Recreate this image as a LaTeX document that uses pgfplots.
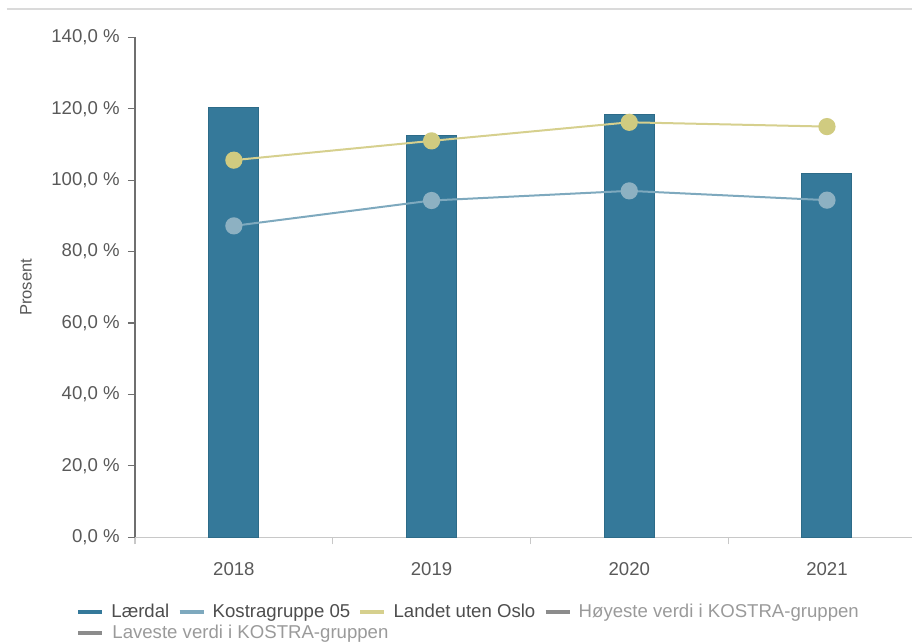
\documentclass[border=0pt]{standalone}
\usepackage{fontspec}
\setmainfont{Liberation Sans}
\usepackage{pgfplots}
\pgfplotsset{compat=1.18}
\definecolor{lerdal}{HTML}{35799A}
\definecolor{lerdaledge}{HTML}{2D6B88}
\definecolor{kostra}{HTML}{7EA9BE}
\definecolor{kostramark}{HTML}{8DB1C2}
\definecolor{landet}{HTML}{D6D08E}
\definecolor{landetmark}{HTML}{D0CB80}
\definecolor{minmax}{HTML}{8C8C8C}
\definecolor{labeltext}{HTML}{595959}
\definecolor{legtext}{HTML}{4D4D4D}
\definecolor{legdim}{HTML}{9A9A9A}
\definecolor{yaxis}{HTML}{6F6F6F}
\definecolor{xaxis}{HTML}{C8C8C8}
\definecolor{topline}{HTML}{DADADA}

\begin{document}
\fontsize{9.3}{11}\selectfont
\begin{tikzpicture}
\useasboundingbox (-67.5pt,-52.85pt) rectangle (388.5pt,268.65pt);
\draw[topline, line width=0.8pt] (-64pt,264pt) -- (388.5pt,264pt);
\begin{axis}[
    at={(0pt,0pt)}, anchor=south west,
    scale only axis,
    width=388.5pt, height=250pt,
    xmin=-0.5, xmax=3.43,
    ymin=0, ymax=140,
    axis x line*=bottom,
    axis y line*=left,
    x axis line style={draw=xaxis, line width=0.6pt},
    y axis line style={draw=yaxis, line width=0.6pt},
    tick align=outside,
    ytick={0,20,40,60,80,100,120,140},
    yticklabels={{0,0 \%},{20,0 \%},{40,0 \%},{60,0 \%},{80,0 \%},{100,0 \%},{120,0 \%},{140,0 \%}},
    ytick style={draw=yaxis, line width=0.6pt},
    major tick length=3.5pt,
    yticklabel style={text=labeltext, inner sep=0pt, anchor=east, font=\fontsize{9.3}{11}\selectfont},
    yticklabel shift=4pt,
    xtick={-0.5,0.5,1.5,2.5},
    xticklabels={},
    xtick style={draw=xaxis, line width=0.6pt},
    extra x ticks={0,1,2,3},
    extra x tick labels={2018,2019,2020,2021},
    extra x tick style={major tick length=0pt,
        xticklabel style={text=labeltext, inner sep=0pt, anchor=north, yshift=-12.5pt, font=\fontsize{9.3}{11}\selectfont}},
    ylabel={Prosent},
    every axis y label/.style={at={(-54.5pt,125pt)}, rotate=90, anchor=center,
        text=labeltext, font=\fontsize{8.3}{10}\selectfont},
    clip=false,
    legend columns=4,
    legend cell align=left,
    legend image code/.code={\draw[#1, line width=2.2pt] (0pt,0pt) -- (12pt,0pt);},
    legend style={at={(-0.0759,-0.133)}, anchor=north west, draw=none, fill=none,
        inner sep=0pt, outer sep=0pt, row sep=2.5pt,
        font=\fontsize{9.3}{11}\selectfont,
        nodes={inner sep=0pt, text=legtext},
        /tikz/every odd column/.append style={column sep=3.5pt},
        /tikz/every even column/.append style={column sep=4pt}},
]
\addplot[ybar, bar width=25pt, fill=lerdal, draw=lerdaledge, line width=0.5pt, forget plot]
    coordinates {(0,120.4) (1,112.6) (2,118.5) (3,101.8)};
\addplot[kostra, line width=1pt, mark=*, mark size=3.8pt,
    mark options={fill=kostramark, draw=kostramark}, forget plot]
    coordinates {(0,87.2) (1,94.3) (2,97.0) (3,94.4)};
\addplot[landet, line width=1pt, mark=*, mark size=3.8pt,
    mark options={fill=landetmark, draw=landetmark}, forget plot]
    coordinates {(0,105.6) (1,111.0) (2,116.2) (3,115.0)};
\addlegendimage{lerdal}
\addlegendimage{kostra}
\addlegendimage{landet}
\addlegendimage{minmax}
\addlegendimage{minmax}
\legend{Lærdal, Kostragruppe 05, Landet uten Oslo,
    \textcolor{legdim}{Høyeste verdi i KOSTRA-gruppen},
    \makebox[0pt][l]{\textcolor{legdim}{Laveste verdi i KOSTRA-gruppen}}}
\end{axis}
\end{tikzpicture}
\end{document}
